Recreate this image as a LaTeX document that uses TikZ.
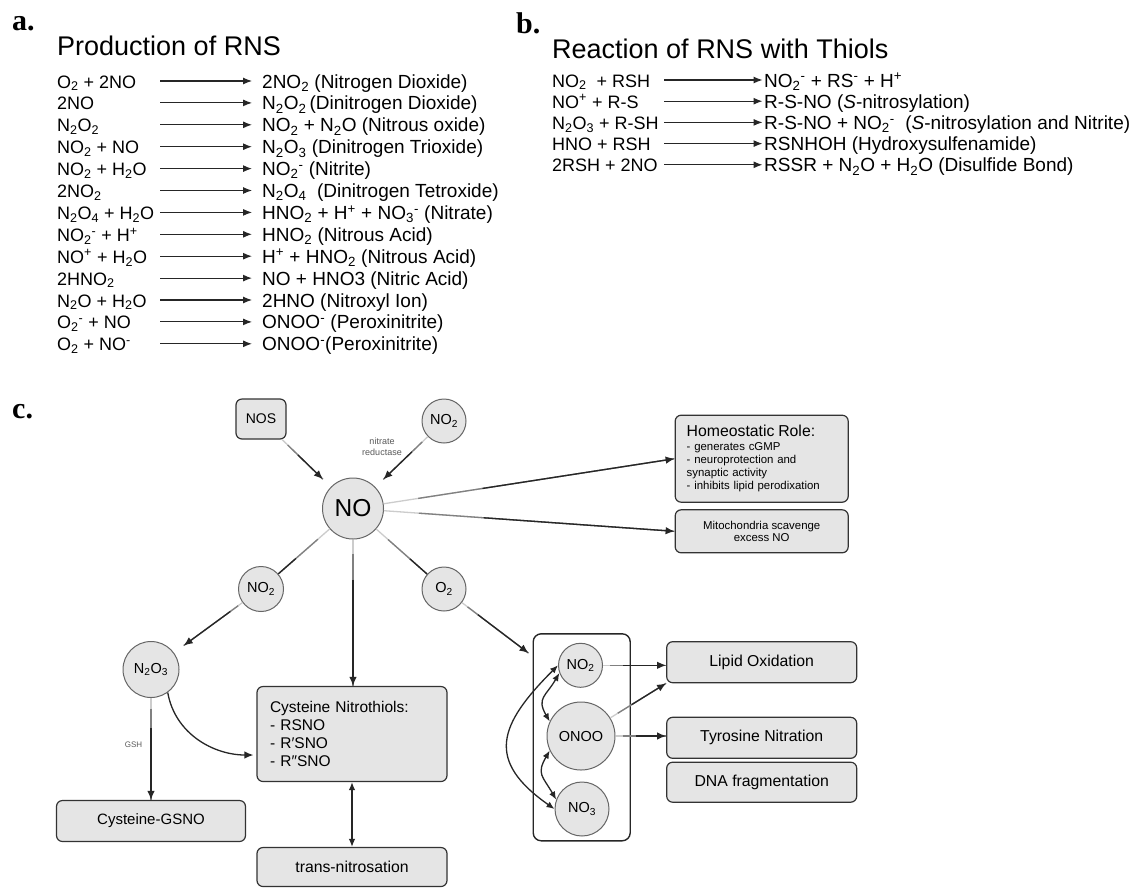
\documentclass[tikz,border=0pt]{standalone}
\usepackage{fontspec}
\setmainfont{Liberation Sans}
\newfontfamily\panelfont{Liberation Serif}
\usetikzlibrary{arrows.meta}
\newcommand{\chg}[2]{\textsubscript{#1}\textsuperscript{#2}}

\begin{document}
\begin{tikzpicture}[x=1pt,y=1pt,
  panel/.style={anchor=base west,inner sep=0pt,font=\panelfont\bfseries\fontsize{30}{32}\selectfont},
  head/.style={anchor=base west,inner sep=0pt,font=\fontsize{27}{30}\selectfont},
  eqn/.style={anchor=base west,inner sep=0pt,font=\fontsize{19}{22}\selectfont},
  lhs/.style={eqn,font=\fontsize{18}{22}\selectfont},
  rxn/.style={draw=black!85,line width=1.1pt,-{Latex[length=9pt,width=7pt]}},
  box/.style={rectangle,rounded corners=6pt,draw=black!80,fill=black!10,line width=1.2pt,inner sep=0pt,font=\fontsize{15.8}{18}\selectfont},
  mol/.style={circle,draw=black!60,fill=black!10,line width=1pt,inner sep=0pt,font=\fontsize{14.5}{16}\selectfont},
  note/.style={inner sep=0pt,text=black!65,align=center,font=\fontsize{9}{10.5}\selectfont},
  link/.style={draw=black!85,line width=1.3pt,-{Latex[length=9pt,width=7.5pt]}},
  fadeline/.style={draw=black!20,line width=1.3pt,
    postaction={draw=black!50,shorten <=0.35*#1},
    postaction={draw=black!85,shorten <=#1}},
  fadeto/.style={draw=black!20,line width=1.3pt,
    postaction={draw=black!50,shorten <=0.35*#1},
    postaction={draw=black!85,shorten <=#1,-{Latex[length=9pt,width=7.5pt]}}},
  dbl/.style={draw=black!85,line width=1.3pt,{Latex[length=8pt,width=6.5pt]}-{Latex[length=8pt,width=6.5pt]}}]
\fill[white] (0,0) rectangle (1131,-887);
\useasboundingbox (0,0) rectangle (1131,-887);

\node[panel] (pa) at (12,-30) {a.};
\node[head] (ha) at (57,-55) {Production of RNS};
\foreach \lhs/\rhs [count=\i from 0] in {
  {O\textsubscript{2} + 2NO}/{2NO\textsubscript{2} (Nitrogen Dioxide)},
  {2NO}/{N\textsubscript{2}O\textsubscript{2}\,(Dinitrogen Dioxide)},
  {N\textsubscript{2}O\textsubscript{2}}/{NO\textsubscript{2} + N\textsubscript{2}O (Nitrous oxide)},
  {NO\textsubscript{2} + NO}/{N\textsubscript{2}O\textsubscript{3} (Dinitrogen Trioxide)},
  {NO\textsubscript{2} + H\textsubscript{2}O}/{NO\chg{2}{-} (Nitrite)},
  {2NO\textsubscript{2}}/{N\textsubscript{2}O\textsubscript{4}\ \ (Dinitrogen Tetroxide)},
  {N\textsubscript{2}O\textsubscript{4} + H\textsubscript{2}O}/{HNO\textsubscript{2} + H\textsuperscript{+} + NO\chg{3}{-} (Nitrate)},
  {NO\chg{2}{-} + H\textsuperscript{+}}/{HNO\textsubscript{2} (Nitrous Acid)},
  {NO\textsuperscript{+} + H\textsubscript{2}O}/{H\textsuperscript{+} + HNO\textsubscript{2} (Nitrous Acid)},
  {2HNO\textsubscript{2}}/{NO + HNO3 (Nitric Acid)},
  {N\textsubscript{2}O + H\textsubscript{2}O}/{2HNO (Nitroxyl Ion)},
  {O\chg{2}{-} + NO}/{ONOO\textsuperscript{-} (Peroxinitrite)},
  {O\textsubscript{2} + NO\textsuperscript{-}}/{ONOO\textsuperscript{-}(Peroxinitrite)}}{
  \pgfmathsetmacro\yb{-88-21.9*\i}
  \node[lhs] (al\i) at (57,\yb) {\lhs};
  \node[eqn] (ar\i) at (262,\yb) {\rhs};
  \coordinate (aa\i) at (160,\yb+7);
  \draw[rxn,shorten >=10pt] (aa\i) -- ([yshift=7pt]ar\i.base west);
}

\node[panel] (pb) at (516,-33) {b.};
\node[head] (hb) at (552,-58) {Reaction of RNS with Thiols};
\foreach \lhs/\rhs [count=\i from 0] in {
  {NO\textsubscript{2}\ \ + RSH}/{NO\chg{2}{-} + RS\textsuperscript{-} + H\textsuperscript{+}},
  {NO\textsuperscript{+} + R-S}/{R-S-NO (\textit{S}-nitrosylation)},
  {N\textsubscript{2}O\textsubscript{3} + R-SH}/{R-S-NO + NO\chg{2}{-}\ \ (\textit{S}-nitrosylation and Nitrite)},
  {HNO + RSH}/{RSNHOH (Hydroxysulfenamide)},
  {2RSH + 2NO}/{RSSR + N\textsubscript{2}O + H\textsubscript{2}O (Disulfide Bond)}}{
  \pgfmathsetmacro\yb{-87-21.2*\i}
  \node[lhs] (bl\i) at (552,\yb) {\lhs};
  \node[eqn] (br\i) at (764,\yb) {\rhs};
  \coordinate (ba\i) at (664,\yb+7);
  \draw[rxn,shorten >=1.5pt] (ba\i) -- ([yshift=7pt]br\i.base west);
}

\node[panel] (pc) at (12,-418) {c.};
\node[box,minimum width=50pt,minimum height=40pt,font=\fontsize{14}{16}\selectfont] (nos) at (261,-419) {NOS};
\node[mol,minimum size=44pt] (no2a) at (444,-421) {NO\textsubscript{2}};
\node[note] (nr) at (382,-447) {nitrate\\reductase};
\node[mol,minimum size=61pt,font=\fontsize{24.5}{26}\selectfont] (no) at (353,-508.5) {NO};
\node[box,minimum width=173pt,minimum height=87pt,text width=150pt,align=left,font=\fontsize{11.4}{12.9}\selectfont] (homeo) at (761.7,-458.7)
  {{\fontsize{15.8}{17}\selectfont Homeostatic Role:}\\[1pt]- generates cGMP\\- neuroprotection and\\synaptic activity\\- inhibits lipid perodixation};
\node[box,minimum width=173pt,minimum height=43pt,align=center,font=\fontsize{11.4}{12.6}\selectfont] (mito) at (761.7,-531.3)
  {Mitochondria scavenge\\excess NO};
\node[mol,minimum size=45pt] (no2b) at (261,-589) {NO\textsubscript{2}};
\node[mol,minimum size=44pt] (o2) at (444,-589) {O\textsubscript{2}};
\node[mol,minimum size=56pt] (n2o3) at (151,-669.5) {N\textsubscript{2}O\textsubscript{3}};
\node[box,minimum width=190pt,minimum height=95pt,text width=164pt,align=left,font=\fontsize{15.5}{18}\selectfont] (cys) at (352,-734)
  {Cysteine Nitrothiols:\\- RSNO\\- R′SNO\\- R″SNO};
\node[note,font=\fontsize{8}{10}\selectfont] (gsh) at (133.6,-745) {GSH};
\node[box,minimum width=189pt,minimum height=41pt,font=\fontsize{15}{18}\selectfont] (gsno) at (151,-821) {Cysteine-GSNO};
\node[box,minimum width=190pt,minimum height=39pt] (trans) at (352,-867) {trans-nitrosation};
\node[rectangle,rounded corners=8pt,draw=black!85,line width=1.4pt,minimum width=97pt,minimum height=207pt] (frame) at (581.7,-737.3) {};
\node[mol,minimum size=44pt] (no2i) at (580.5,-665.3) {NO\textsubscript{2}};
\node[mol,minimum size=68pt] (onoo) at (581,-736) {ONOO};
\node[mol,minimum size=54pt] (no3i) at (582,-809) {NO\textsubscript{3}};
\node[box,minimum width=190pt,minimum height=41pt] (lipid) at (761.7,-662.2) {Lipid Oxidation};
\node[box,minimum width=190pt,minimum height=41pt] (tyro) at (761.7,-737.8) {Tyrosine Nitration};
\node[box,minimum width=190pt,minimum height=40pt] (dna) at (761.7,-782.2) {DNA fragmentation};

\draw[fadeto=22,shorten >=11pt] (nos) -- (no);
\draw[fadeto=22,shorten >=11pt] (no2a) -- (no);
\draw[fadeto=100] (no) -- (homeo.west);
\draw[fadeto=100] (no) -- (mito.west);
\draw[fadeline=45] (no) -- (no2b);
\draw[fadeline=45] (no) -- (o2);
\draw[fadeto=40] (no.south) -- (no.south |- cys.north);
\draw[fadeto=15,shorten >=12pt] (no2b) -- (n2o3);
\draw[fadeto=20,shorten >=5pt] (o2) -- ([yshift=-23pt]frame.north west);
\draw[fadeto=30] (n2o3) -- (gsno);
\draw[link,shorten >=3pt] (n2o3.-54) to[out=-80,in=180] ([yshift=-21pt]cys.west);
\draw[dbl] (cys) -- (trans);
\draw[fadeto=20] (no2i) -- (no2i -| lipid.west);
\draw[fadeto=25] (onoo) -- (lipid.south west);
\draw[fadeto=20] (onoo) -- (onoo -| tyro.west);
\draw[dbl] (no2i.west) to[out=225,in=145,looseness=1.5] (no3i.west);
\draw[dbl] (no2i.200) to[out=240,in=120,looseness=1.4] (onoo.155);
\draw[dbl] (onoo.205) to[out=240,in=120,looseness=1.4] (no3i.160);
\end{tikzpicture}
\end{document}
